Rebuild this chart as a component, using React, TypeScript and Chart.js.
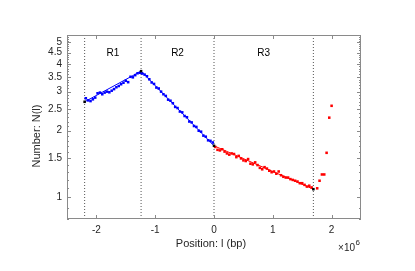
import React, { useEffect, useRef } from "react";
import { Chart, registerables } from "chart.js";

Chart.register(...registerables);

// Positions in units of 10^6 bp
const r1X = [-2.18, -2.14, -2.10, -2.06, -2.02, -1.98, -1.94, -1.90, -1.86, -1.82, -1.78, -1.74, -1.70, -1.66, -1.62, -1.58, -1.54, -1.50, -1.46, -1.42, -1.38, -1.34, -1.30, -1.26];
const r1Y = [2.80, 2.74, 2.72, 2.77, 2.82, 2.95, 2.97, 2.92, 2.97, 3.00, 2.98, 3.03, 3.08, 3.14, 3.18, 3.24, 3.29, 3.36, 3.31, 3.50, 3.48, 3.56, 3.63, 3.65];

const r2X = [-1.22, -1.18, -1.14, -1.10, -1.06, -1.02, -0.98, -0.94, -0.90, -0.86, -0.82, -0.78, -0.74, -0.70, -0.66, -0.62, -0.58, -0.54, -0.50, -0.46, -0.42, -0.38, -0.34, -0.30, -0.26, -0.22, -0.18, -0.14, -0.10, -0.06, -0.02];
const r2Y = [3.62, 3.58, 3.52, 3.41, 3.30, 3.25, 3.13, 3.10, 3.00, 2.92, 2.87, 2.76, 2.73, 2.66, 2.56, 2.53, 2.44, 2.42, 2.33, 2.30, 2.20, 2.18, 2.10, 2.08, 2.00, 1.98, 1.90, 1.88, 1.81, 1.80, 1.77];

const r3X = [0.02, 0.06, 0.10, 0.14, 0.18, 0.22, 0.26, 0.30, 0.34, 0.38, 0.42, 0.46, 0.50, 0.54, 0.58, 0.62, 0.66, 0.70, 0.74, 0.78, 0.82, 0.86, 0.90, 0.94, 0.98, 1.02, 1.06, 1.10, 1.14, 1.18, 1.22, 1.26, 1.30, 1.34, 1.38, 1.42, 1.46, 1.50, 1.54, 1.58, 1.62, 1.66];
const r3Y = [1.69, 1.64, 1.63, 1.65, 1.61, 1.58, 1.56, 1.58, 1.57, 1.52, 1.54, 1.50, 1.47, 1.46, 1.49, 1.42, 1.41, 1.44, 1.40, 1.36, 1.34, 1.37, 1.35, 1.32, 1.30, 1.31, 1.28, 1.31, 1.26, 1.24, 1.23, 1.23, 1.21, 1.20, 1.19, 1.18, 1.16, 1.16, 1.14, 1.12, 1.13, 1.11];

const tailX = [1.755, 1.795, 1.835, 1.875, 1.915, 1.96, 2.0];
const tailY = [1.10, 1.19, 1.27, 1.27, 1.59, 2.29, 2.59];

const breakX = [-2.2, -1.24, 0, 1.69];
const breakY = [2.70, 3.71, 1.71, 1.09];

const regionLabels = ["R1", "R2", "R3"];
const regionLabelY = 4.45;

const xTicks = [-2, -1, 0, 1, 2];
const yTicks = [1, 1.5, 2, 2.5, 3, 3.5, 4, 4.5, 5];
const xMin = -2.5;
const xMax = 2.5;
const yMin = 0.8;
const yMax = 5.4;

const xTitle = "Position: l (bp)";
const yTitle = "Number: N(l)";

const FONT = "'Liberation Sans', Arial, Helvetica, sans-serif";
const TEXT = "#262626";
const AXIS = "#8a8a8a";

const pts = (xs: number[], ys: number[]) => xs.map((x, i) => ({ x, y: ys[i] }));

const decorPlugin = {
  id: "decor",
  afterDatasetsDraw(chart: any) {
    const { ctx, chartArea, scales } = chart;
    const xs = scales.x;
    const ys = scales.y;
    const { left, right, top, bottom } = chartArea;
    ctx.save();
    // frame
    ctx.strokeStyle = AXIS;
    ctx.lineWidth = 1;
    ctx.strokeRect(Math.round(left) + 0.5, Math.round(top) + 0.5, Math.round(right - left) - 1, Math.round(bottom - top) - 1);
    // x ticks (inward, top and bottom)
    ctx.beginPath();
    xTicks.forEach((v) => {
      const px = Math.round(xs.getPixelForValue(v)) + 0.5;
      ctx.moveTo(px, bottom);
      ctx.lineTo(px, bottom - 4);
      ctx.moveTo(px, top);
      ctx.lineTo(px, top + 4);
    });
    // y minor ticks
    for (let k = 8; k <= 54; k++) {
      const v = k / 10;
      const py = Math.round(ys.getPixelForValue(v)) + 0.5;
      const major = yTicks.some((t) => Math.abs(t - v) < 1e-9);
      const len = major ? 4 : 2;
      ctx.moveTo(left, py);
      ctx.lineTo(left + len, py);
      ctx.moveTo(right, py);
      ctx.lineTo(right - len, py);
    }
    ctx.stroke();

    // region labels at region midpoints
    ctx.fillStyle = "#000";
    ctx.font = `10px ${FONT}`;
    ctx.textAlign = "center";
    ctx.textBaseline = "middle";
    regionLabels.forEach((lab, i) => {
      const mx = (breakX[i] + breakX[i + 1]) / 2;
      ctx.fillText(lab, xs.getPixelForValue(mx), ys.getPixelForValue(regionLabelY));
    });

    // axis titles
    ctx.fillStyle = TEXT;
    ctx.font = `11px ${FONT}`;
    ctx.fillText(xTitle, 211, 244);
    ctx.save();
    ctx.translate(37, 136);
    ctx.rotate(-Math.PI / 2);
    ctx.fillText(yTitle, 0, 0);
    ctx.restore();

    // exponent
    ctx.font = `10px ${FONT}`;
    ctx.textAlign = "right";
    ctx.fillText("\u00d710", 355, 248);
    ctx.font = `8px ${FONT}`;
    ctx.textAlign = "left";
    ctx.fillText("6", 355.5, 243);
    ctx.restore();
  },
};

export default function App() {
  const ref = useRef<HTMLCanvasElement | null>(null);
  useEffect(() => {
    if (!ref.current) return;
    const vlines = breakX.map((x) => ({
      type: "line" as const,
      data: [
        { x, y: yMin },
        { x, y: yMax },
      ],
      borderColor: "#555555",
      borderWidth: 1,
      borderDash: [1, 2],
      pointRadius: 0,
      order: 10,
    }));
    const fit = (i0: number, color: string) => ({
      type: "line" as const,
      data: [
        { x: breakX[i0], y: breakY[i0] },
        { x: breakX[i0 + 1], y: breakY[i0 + 1] },
      ],
      borderColor: color,
      borderWidth: 1,
      pointRadius: 0,
      order: 5,
    });
    const scatter = (data: any[], color: string, order: number) => ({
      type: "line" as const,
      data,
      showLine: false,
      pointStyle: "rect",
      pointRadius: 1.8,
      pointBorderWidth: 0,
      pointBackgroundColor: color,
      borderColor: color,
      order,
    });
    const chart = new Chart(ref.current, {
      type: "line",
      data: {
        datasets: [
          scatter(pts(breakX, breakY), "#000000", 1),
          scatter(pts(r1X, r1Y), "#0000ff", 2),
          scatter(pts(r2X, r2Y), "#0000ff", 2),
          scatter(pts(r3X, r3Y), "#ff0000", 2),
          scatter(pts(tailX, tailY), "#ff0000", 2),
          fit(0, "#0000ff"),
          fit(1, "#0000ff"),
          fit(2, "#ff0000"),
          ...vlines,
        ] as any,
      },
      options: {
        animation: false,
        responsive: false,
        events: [],
        layout: { padding: { left: 0, right: 54, top: 35, bottom: 0 } },
        plugins: { legend: { display: false }, tooltip: { enabled: false } },
        scales: {
          x: {
            type: "linear",
            min: xMin,
            max: xMax,
            border: { display: false },
            grid: { display: false, drawTicks: false },
            afterBuildTicks: (s: any) => {
              s.ticks = xTicks.map((v) => ({ value: v }));
            },
            afterFit: (s: any) => {
              s.height = 52;
            },
            ticks: {
              padding: 5,
              color: TEXT,
              font: { family: FONT, size: 10 },
              maxRotation: 0,
              callback: (v: any) => String(v),
            },
          },
          y: {
            type: "logarithmic",
            min: yMin,
            max: yMax,
            border: { display: false },
            grid: { display: false, drawTicks: false },
            afterBuildTicks: (s: any) => {
              s.ticks = yTicks.map((v) => ({ value: v }));
            },
            afterFit: (s: any) => {
              s.width = 67;
            },
            ticks: {
              padding: 5,
              color: TEXT,
              font: { family: FONT, size: 10 },
              callback: (v: any) => String(v),
            },
          },
        },
      },
      plugins: [decorPlugin],
    });
    return () => chart.destroy();
  }, []);
  return (
    <div style={{ position: "absolute", left: 0, top: 0, width: 415, height: 271, background: "#fff" }}>
      <canvas ref={ref} width={415} height={271} style={{ display: "block" }} />
    </div>
  );
}
